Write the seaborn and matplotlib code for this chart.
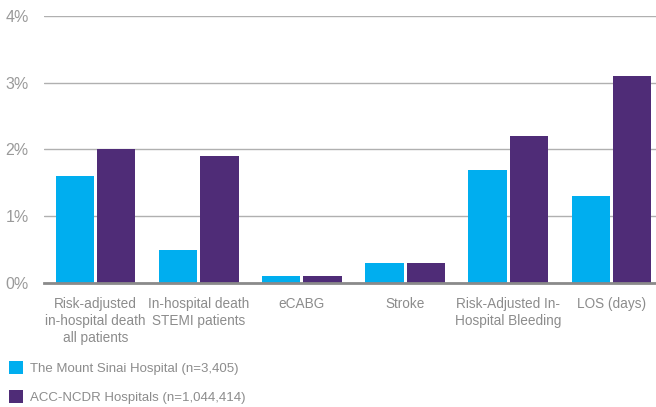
import pandas as pd
import seaborn as sns
from matplotlib import pyplot as plt
from matplotlib.ticker import FuncFormatter

categories = ['Risk-adjusted\nin-hospital death\nall patients', 'In-hospital death\nSTEMI patients',
              'eCABG', 'Stroke', 'Risk-Adjusted In-\nHospital Bleeding', 'LOS (days)']
series_names = ['The Mount Sinai Hospital (n=3,405)', 'ACC-NCDR Hospitals (n=1,044,414)']
mount_sinai = [1.6, 0.5, 0.1, 0.3, 1.7, 1.3]
acc_ncdr = [2.0, 1.9, 0.1, 0.3, 2.2, 3.1]
colors = ['#00AEEF', '#4F2C77']

df = pd.DataFrame({
	'category': categories * 2,
	'series': [series_names[0]] * 6 + [series_names[1]] * 6,
	'value': mount_sinai + acc_ncdr,
})

sns.set_style('white')
plt.rcParams['font.family'] = ['Liberation Sans', 'DejaVu Sans']

fig = plt.figure(figsize=(6.56, 4.07), dpi=100)
W, H = 656, 407
ax = fig.add_axes([44 / W, (H - 283) / H, 619 / W, 267 / H])

sns.barplot(data=df, x='category', y='value', hue='series', palette=colors,
			width=0.8, gap=0.07, saturation=1, linewidth=0, ax=ax, zorder=3)

ax.set_ylim(0, 4)
ax.set_xlim(-0.5, 5.5)
ax.set_yticks([0, 1, 2, 3, 4])
ax.yaxis.set_major_formatter(FuncFormatter(lambda v, p: f'{int(v)}%'))
ax.grid(axis='y', color='#b0b0b0', linewidth=1, zorder=0)
ax.set_axisbelow(True)
for s in ['top', 'right', 'left']:
	ax.spines[s].set_visible(False)
ax.spines['bottom'].set_color('#8a8a8a')
ax.spines['bottom'].set_linewidth(2)
ax.spines['bottom'].set_zorder(4)
ax.tick_params(axis='y', length=0, pad=11, labelsize=11.5, labelcolor='#9a9a9a')
ax.tick_params(axis='x', length=0, pad=10, labelsize=9.8, labelcolor='#8c8c8c')
for t in ax.get_xticklabels():
	t.set_linespacing(1.3)
ax.set_xlabel('')
ax.set_ylabel('')

handles, labels = ax.get_legend_handles_labels()
ax.get_legend().remove()
fig.legend(handles, labels, loc='upper left', bbox_to_anchor=(0.0, (H - 352) / H),
		   frameon=False, fontsize=9.5, labelcolor='#8c8c8c', handlelength=1.05,
		   handleheight=1.15, handletextpad=0.5, labelspacing=1.1, borderaxespad=0.3)

fig.savefig('out.png', dpi=100)
